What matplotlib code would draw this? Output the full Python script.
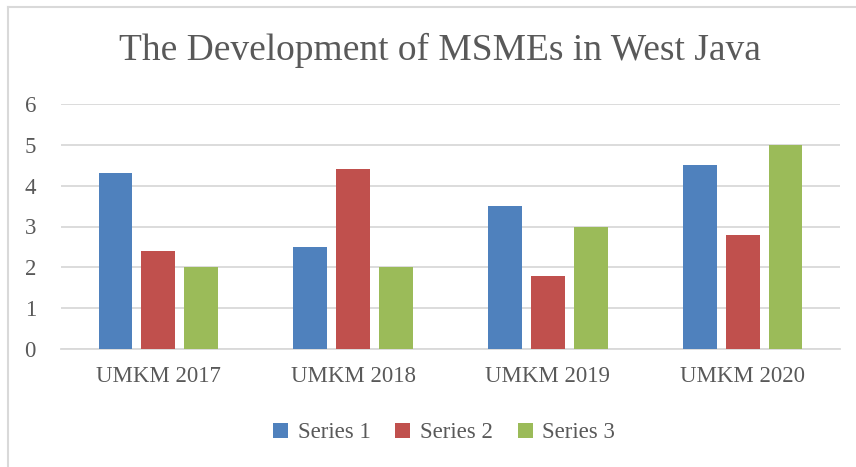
import matplotlib
matplotlib.use("Agg")
import matplotlib.pyplot as plt
import numpy as np
from matplotlib.lines import Line2D

categories = ["UMKM 2017", "UMKM 2018", "UMKM 2019", "UMKM 2020"]
series_names = ["Series 1", "Series 2", "Series 3"]
series1 = [4.3, 2.5, 3.5, 4.5]
series2 = [2.4, 4.4, 1.8, 2.8]
series3 = [2.0, 2.0, 3.0, 5.0]
colors = ["#4f81bd", "#c0504d", "#9bbb59"]
title = "The Development of MSMEs in West Java"

plt.rcParams['font.family'] = ['Liberation Serif', 'DejaVu Serif']

W, H = 856, 467
fig = plt.figure(figsize=(W/100, H/100), dpi=100)
ax = fig.add_axes([61/W, 1-349/H, (840-61)/W, (349-104)/H])

x = np.arange(len(categories))
bw = 0.174
step = 0.22
for i, (vals, name) in enumerate(zip([series1, series2, series3], series_names)):
    ax.bar(x + (i-1)*step, vals, width=bw, color=colors[i], label=name, zorder=3)

ax.set_xlim(-0.5, len(categories)-0.5)
ax.set_ylim(0, 6)
ax.set_yticks(range(0, 7))
ax.yaxis.grid(True, color="#d9d9d9", linewidth=1.3, zorder=0)
ax.set_axisbelow(True)
for s in ["top", "right", "left"]:
    ax.spines[s].set_visible(False)
ax.spines["bottom"].set_color("#d9d9d9")
ax.spines["bottom"].set_linewidth(1.3)
ax.tick_params(axis='both', length=0, labelsize=16.5, colors="#595959")
ax.tick_params(axis='y', pad=18)
ax.tick_params(axis='x', pad=12)
ax.set_xticks(x)
ax.set_xticklabels(categories)

fig.text(440/W, 1-50/H, title, ha='center', va='center', fontsize=27, color="#595959")

leg = fig.legend(loc='center', bbox_to_anchor=(444/W, 1-433/H), ncol=3, frameon=False,
                 fontsize=16.5, handlelength=0.65, handleheight=0.65, handletextpad=0.4,
                 columnspacing=1.1, labelcolor="#595959")

fig.add_artist(Line2D([8/W, 1], [1-7/H, 1-7/H], transform=fig.transFigure,
                      color="#d9d9d9", linewidth=1.5))
fig.add_artist(Line2D([8/W, 8/W], [0, 1-7/H], transform=fig.transFigure,
                      color="#d9d9d9", linewidth=1.5))

fig.savefig("out.png", dpi=100)
